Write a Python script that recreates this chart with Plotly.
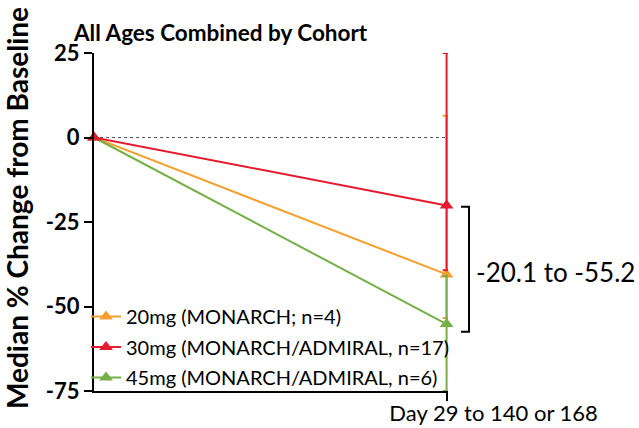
import plotly.graph_objects as go

# ---- data ----
timepoints = ["Baseline", "Day 29 to 140 or 168"]
time_pos = [0, 1]
series_names = ["20mg (MONARCH; n=4)",
                "30mg (MONARCH/ADMIRAL, n=17)",
                "45mg (MONARCH/ADMIRAL, n=6)"]
median_20 = [0, -40.5]
median_30 = [0, -20.1]
median_45 = [0, -55.2]
upper_20 = [0, 6.4]
lower_20 = [0, -53.4]
upper_30 = [0, 25.0]
lower_30 = [0, -39.3]
upper_45 = [0, -41.0]
lower_45 = [0, -75.0]
y_ticks = [-75, -50, -25, 0, 25]
y_ticktext = ["-75", "-50", "-25", "0", "25"]
range_text = "-20.1 to -55.2"
bracket_top = -20.5
bracket_bottom = -57.5

colors = ["#F5A02E", "#E41B2F", "#74B046"]
FONT = "Lato"

# plot area in pixels
L, R, T, B = 94, 448, 53, 391
W, H = R - L, B - T


def px_x(p):
    return (p - L) / W


def px_y(p):
    return (B - p) / H


fig = go.Figure()
meds = [median_20, median_30, median_45]
ups = [upper_20, upper_30, upper_45]
lows = [lower_20, lower_30, lower_45]
order = [0, 2, 1]  # draw red last so it sits on top
for i in order:
    m, u, l = meds[i], ups[i], lows[i]
    fig.add_trace(go.Scatter(
        x=time_pos, y=m, name=series_names[i],
        mode="lines+markers",
        line=dict(color=colors[i], width=2),
        marker=dict(symbol="triangle-up", size=12, color=colors[i]),
        error_y=dict(type="data", symmetric=False,
                     array=[a - b for a, b in zip(u, m)],
                     arrayminus=[b - a for a, b in zip(l, m)],
                     color=colors[i], thickness=2, width=4),
        cliponaxis=False,
        legendrank=i,
        legendgroup=f"g{i}",
    ))

# dotted zero line
fig.add_shape(type="line", xref="x", yref="y", x0=0, x1=1, y0=0, y1=0,
              line=dict(color="#555555", width=1, dash="dot"), layer="below")

# bracket
bx = px_x(469)
bl = px_x(461)
fig.add_shape(type="path", xref="paper", yref="y",
              path=f"M {bl},{bracket_top} L {bx},{bracket_top} L {bx},{bracket_bottom} L {bl},{bracket_bottom}",
              line=dict(color="black", width=2))
fig.add_annotation(text=range_text, xref="paper", yref="paper", x=px_x(474), y=px_y(272),
                   xanchor="left", yanchor="middle", showarrow=False,
                   font=dict(family=FONT, size=26, color="black"))

# title
fig.add_annotation(text="<b>All Ages Combined by Cohort</b>", xref="paper", yref="paper",
                   x=px_x(71), y=px_y(33), xanchor="left", yanchor="middle",
                   showarrow=False, font=dict(family=FONT, size=22.5, color="black"))
# y-axis title
fig.add_annotation(text="<b>Median % Change from Baseline</b>", xref="paper", yref="paper",
                   x=px_x(17), y=px_y(208), xanchor="center", yanchor="middle",
                   textangle=-90, showarrow=False,
                   font=dict(family=FONT, size=28, color="black"))

fig.update_layout(
    width=639, height=428,
    margin=dict(l=L, r=639 - R, t=T, b=428 - B, autoexpand=False),
    paper_bgcolor="white", plot_bgcolor="white",
    showlegend=True,
    legend=dict(x=px_x(86), y=px_y(297), xanchor="left", yanchor="top",
                bgcolor="rgba(0,0,0,0)", font=dict(family=FONT, size=20, color="black"),
                traceorder="grouped", tracegroupgap=1.5, itemwidth=30),
    font=dict(family=FONT, color="black"),
)
fig.update_xaxes(range=[0, 1.004], showgrid=False, zeroline=False, automargin=False,
                 showline=True, linecolor="black", linewidth=2,
                 tickvals=[time_pos[1]], ticktext=[timepoints[1]],
                 ticks="outside", ticklen=8, tickwidth=2, tickcolor="black",
                 ticklabelshift=47, ticklabelstandoff=-6,
                 tickfont=dict(family=FONT, size=22, color="black"))
fig.update_yaxes(range=[-75, 25], showgrid=False, zeroline=False, automargin=False,
                 showline=True, linecolor="black", linewidth=2,
                 tickvals=y_ticks, ticktext=y_ticktext,
                 ticks="outside", ticklen=8, tickwidth=2, tickcolor="black",
                 tickfont=dict(family=FONT, size=22, color="black", weight="bold"))

fig.write_html("out.html", config={"displayModeBar": False},
               post_script="document.body.style.margin='0';")
